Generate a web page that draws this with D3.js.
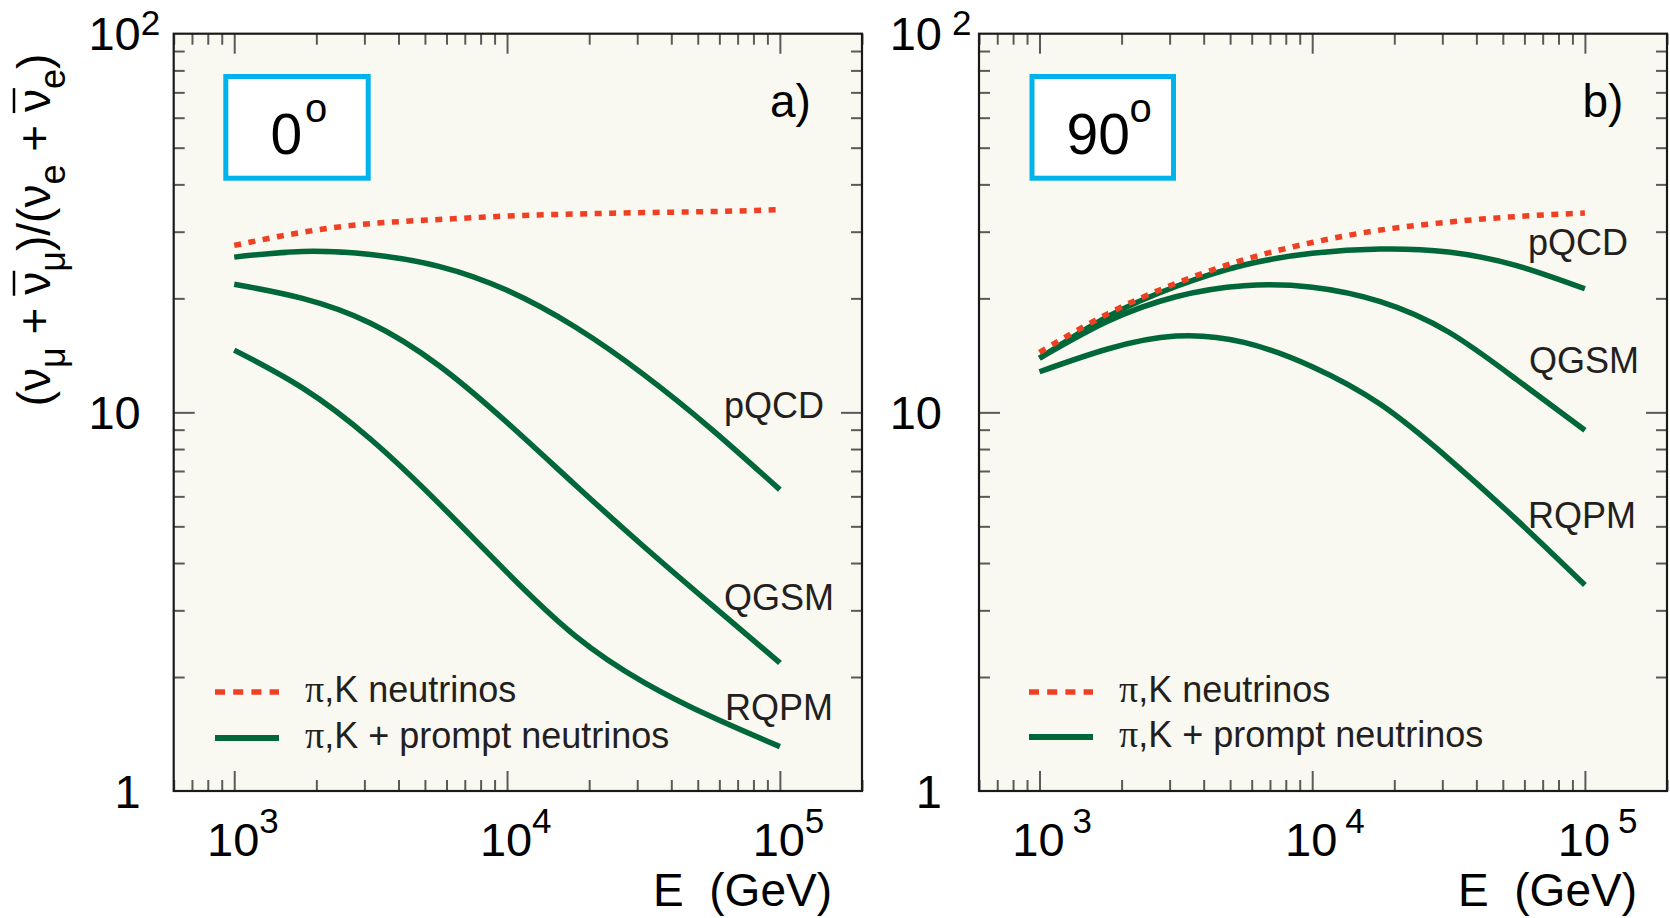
<!DOCTYPE html>
<html><head><meta charset="utf-8">
<script src="https://cdnjs.cloudflare.com/ajax/libs/d3/7.8.5/d3.min.js"></script>
<style>body{margin:0;background:#fff}svg{display:block}</style>
</head><body>
<svg id="chart" width="1670" height="918"></svg>
<script>
// ---------------- data ----------------
const energies = [1000, 1778, 3162, 5623, 10000, 17780, 31620, 56230, 100000];
// panel a) 0 degrees
const a_piK  = [27.6, 29.9, 31.5, 32.3, 33.0, 33.4, 33.7, 33.9, 34.3];
const a_pQCD = [25.7, 26.6, 26.1, 24.3, 21.0, 16.8, 12.6, 9.02, 6.25];
const a_QGSM = [21.8, 20.0, 17.2, 13.3, 9.40, 6.43, 4.43, 3.10, 2.18];
const a_RQPM = [14.6, 11.6, 8.49, 5.75, 3.78, 2.57, 1.94, 1.57, 1.31];
// panel b) 90 degrees
const b_piK  = [14.4, 18.2, 21.9, 25.3, 28.1, 30.3, 31.8, 32.9, 33.6];
const b_pQCD = [13.9, 17.9, 21.5, 24.5, 26.3, 27.0, 26.5, 24.4, 21.2];
const b_QGSM = [13.9, 17.4, 20.2, 21.6, 21.4, 19.6, 16.3, 12.2, 8.97];
const b_RQPM = [12.8, 14.7, 15.9, 15.3, 13.2, 10.5, 7.55, 5.20, 3.50];

const modelNames = ["pQCD", "QGSM", "RQPM"];
const legendPrefix = "\u03c0";
const legendLabels = [",K neutrinos", ",K + prompt neutrinos"];
const angleLabels = ["0", "90"];
const panelTags = ["a)", "b)"];
const xTickValues = [1e3, 1e4, 1e5];
const xTickExps = ["3", "4", "5"];
const yTickValues = [1, 10, 100];
const yTickBases = ["1", "10", "10"];
const yTickExps = ["", "", "2"];
const xDomain = [600, 2e5];
const yDomain = [1, 100];

// ---------------- styling / layout ----------------
const GREEN = "#006838", RED = "#ef4023", CYAN = "#00b3ea", BG = "#f9f8f1";
const FONT = "'Liberation Sans', Arial, Helvetica, sans-serif";
const SERIF = "'Liberation Serif', 'Times New Roman', serif";
const TXT = "#231f20";

const panels = [
  {left:173.7, right:862, piK:a_piK, prompt:[a_pQCD,a_QGSM,a_RQPM],
   box:{x:225.8,y:76.5,w:142.4,h:101.7}, angX:270.5, degX:305, tagX:770,
   labels:[[724,418],[724,610],[725,720]],
   leg:{x0:215,x1:279,tx:305,y1:692,y2:738},
   yGap:33, ySup:0, xSup:0, title:true},
  {left:979, right:1667, piK:b_piK, prompt:[b_pQCD,b_QGSM,b_RQPM],
   box:{x:1032,y:76.5,w:141.5,h:101.7}, angX:1066.5, degX:1129.5, tagX:1582.5,
   labels:[[1528,255],[1529,373],[1528,528]],
   leg:{x0:1029,x1:1093,tx:1119,y1:692,y2:737},
   yGap:37, ySup:10, xSup:8, title:false}
];
const TOP = 33.7, BOTTOM = 791;

const svg = d3.select("#chart");
svg.append("rect").attr("width",1670).attr("height",918).attr("fill","#fff");

panels.forEach((p, pi) => {
  const x = d3.scaleLog().domain(xDomain).range([p.left, p.right]);
  const y = d3.scaleLog().domain(yDomain).range([BOTTOM, TOP]);
  const g = svg.append("g");

  g.append("rect").attr("x",p.left).attr("y",TOP)
    .attr("width",p.right-p.left).attr("height",BOTTOM-TOP).attr("fill",BG);

  // ticks (inside, all four sides)
  const allX = x.ticks();
  const majorX = xTickValues;
  const minorX = allX.filter(v => !majorX.includes(v));
  const allY = y.ticks();
  const minorY = allY.filter(v => !yTickValues.includes(v));
  const tickCol = "#5a5a5a";
  function axisG(axis, tr){
    const a = g.append("g").attr("transform",tr).call(axis);
    a.select(".domain").remove();
    a.selectAll("line").attr("stroke",tickCol).attr("stroke-width",2);
    a.selectAll("text").remove();
  }
  axisG(d3.axisBottom(x).tickValues(minorX).tickSize(-11).tickSizeOuter(0), `translate(0,${BOTTOM})`);
  axisG(d3.axisBottom(x).tickValues(majorX).tickSize(-20).tickSizeOuter(0), `translate(0,${BOTTOM})`);
  axisG(d3.axisTop(x).tickValues(minorX).tickSize(-11).tickSizeOuter(0), `translate(0,${TOP})`);
  axisG(d3.axisTop(x).tickValues(majorX).tickSize(-20).tickSizeOuter(0), `translate(0,${TOP})`);
  axisG(d3.axisLeft(y).tickValues(minorY).tickSize(-11).tickSizeOuter(0), `translate(${p.left},0)`);
  axisG(d3.axisLeft(y).tickValues([10]).tickSize(-21).tickSizeOuter(0), `translate(${p.left},0)`);
  axisG(d3.axisRight(y).tickValues(minorY).tickSize(-11).tickSizeOuter(0), `translate(${p.right},0)`);
  axisG(d3.axisRight(y).tickValues([10]).tickSize(-21).tickSizeOuter(0), `translate(${p.right},0)`);

  // curves
  const line = d3.line().x(d => x(d[0])).y(d => y(d[1])).curve(d3.curveNatural);
  p.prompt.forEach(series => {
    g.append("path").datum(energies.map((e,i)=>[e,series[i]]))
      .attr("d",line).attr("fill","none").attr("stroke",GREEN).attr("stroke-width",5.5);
  });
  g.append("path").datum(energies.map((e,i)=>[e,p.piK[i]]))
    .attr("d",line).attr("fill","none").attr("stroke",RED).attr("stroke-width",5.5)
    .attr("stroke-dasharray","7,7.5");

  // frame
  g.append("rect").attr("x",p.left).attr("y",TOP)
    .attr("width",p.right-p.left).attr("height",BOTTOM-TOP)
    .attr("fill","none").attr("stroke","#1a1a1a").attr("stroke-width",2.2);

  // y tick labels
  yTickValues.forEach((v,i) => {
    const ty = y(v);
    g.append("text").attr("x",p.left-p.yGap).attr("y",ty+16.5)
      .attr("text-anchor","end").attr("font-family",FONT).attr("font-size",47)
      .attr("fill","#000").text(yTickBases[i]);
    if (yTickExps[i]) {
      g.append("text").attr("x",p.left-p.yGap+p.ySup).attr("y",ty+1.5)
        .attr("font-family",FONT).attr("font-size",35).attr("fill","#000").text(yTickExps[i]);
    }
  });
  // x tick labels
  xTickValues.forEach((v,i) => {
    const tx = x(v);
    g.append("text").attr("x",tx-1).attr("y",856)
      .attr("text-anchor","middle").attr("font-family",FONT).attr("font-size",47)
      .attr("fill","#000").text("10");
    g.append("text").attr("x",tx+25+p.xSup).attr("y",833)
      .attr("font-family",FONT).attr("font-size",35).attr("fill","#000").text(xTickExps[i]);
  });
  // x axis title
  g.append("text").attr("x",p.right-30).attr("y",906).attr("text-anchor","end")
    .attr("font-family",FONT).attr("font-size",46).attr("fill","#000")
    .text("E\u00a0\u00a0(GeV)");

  // angle box
  g.append("rect").attr("x",p.box.x).attr("y",p.box.y).attr("width",p.box.w).attr("height",p.box.h)
    .attr("fill","#fff").attr("stroke",CYAN).attr("stroke-width",5);
  g.append("text").attr("x",p.angX).attr("y",154).attr("font-family",FONT)
    .attr("font-size",57).attr("fill","#000").text(angleLabels[pi]);
  g.append("text").attr("x",p.degX).attr("y",122).attr("font-family",FONT)
    .attr("font-size",40).attr("fill","#000").text("o");

  // panel tag
  g.append("text").attr("x",p.tagX).attr("y",117).attr("font-family",FONT)
    .attr("font-size",46).attr("fill","#000").text(panelTags[pi]);

  // model labels
  modelNames.forEach((m,i) => {
    g.append("text").attr("x",p.labels[i][0]).attr("y",p.labels[i][1])
      .attr("font-family",FONT).attr("font-size",36).attr("fill",TXT).text(m);
  });

  // legend
  g.append("line").attr("x1",p.leg.x0).attr("x2",p.leg.x1).attr("y1",p.leg.y1).attr("y2",p.leg.y1)
    .attr("stroke",RED).attr("stroke-width",5.5).attr("stroke-dasharray","10,8.2");
  g.append("line").attr("x1",p.leg.x0).attr("x2",p.leg.x1).attr("y1",p.leg.y2).attr("y2",p.leg.y2)
    .attr("stroke",GREEN).attr("stroke-width",6);
  [p.leg.y1, p.leg.y2].forEach((ly,i) => {
    const t = g.append("text").attr("x",p.leg.tx).attr("y",ly+9.5)
      .attr("font-family",FONT).attr("font-size",36).attr("fill",TXT);
    t.append("tspan").attr("font-family",SERIF).attr("font-size",38).text(legendPrefix);
    t.append("tspan").text(legendLabels[i]);
  });

  // y axis title
  if (p.title) {
    const tg = svg.append("g").attr("transform","translate(50,230) rotate(-90)");
    const t = tg.append("text").attr("text-anchor","middle").attr("font-family",FONT)
      .attr("font-size",46).attr("fill","#000").style("white-space","pre");
    const parts = [
      ["(",0,false],["\u03bd",0,false],["\u03bc",1,false],[" + ",-1,false],
      ["\u03bd",0,true],["\u03bc",1,false],[")/(",-1,false],
      ["\u03bd",0,false],["e",1,false],[" + ",-1,false],
      ["\u03bd",0,true],["e",1,false],[")",-1,false]
    ];
    const spans = [];
    parts.forEach(([s,shift,bar]) => {
      const ts = t.append("tspan").text(s);
      if (shift===1) ts.attr("dy",15).attr("font-size",36);
      else if (shift===-1) ts.attr("dy",-15);
      spans.push([ts,bar]);
    });
    spans.forEach(([ts,bar]) => {
      if (!bar) return;
      const bb = ts.node().getBBox();
      tg.append("line").attr("x1",bb.x-1).attr("x2",bb.x+bb.width+1)
        .attr("y1",-36).attr("y2",-36).attr("stroke","#000").attr("stroke-width",2.5);
    });
  }
});
</script>
</body></html>
